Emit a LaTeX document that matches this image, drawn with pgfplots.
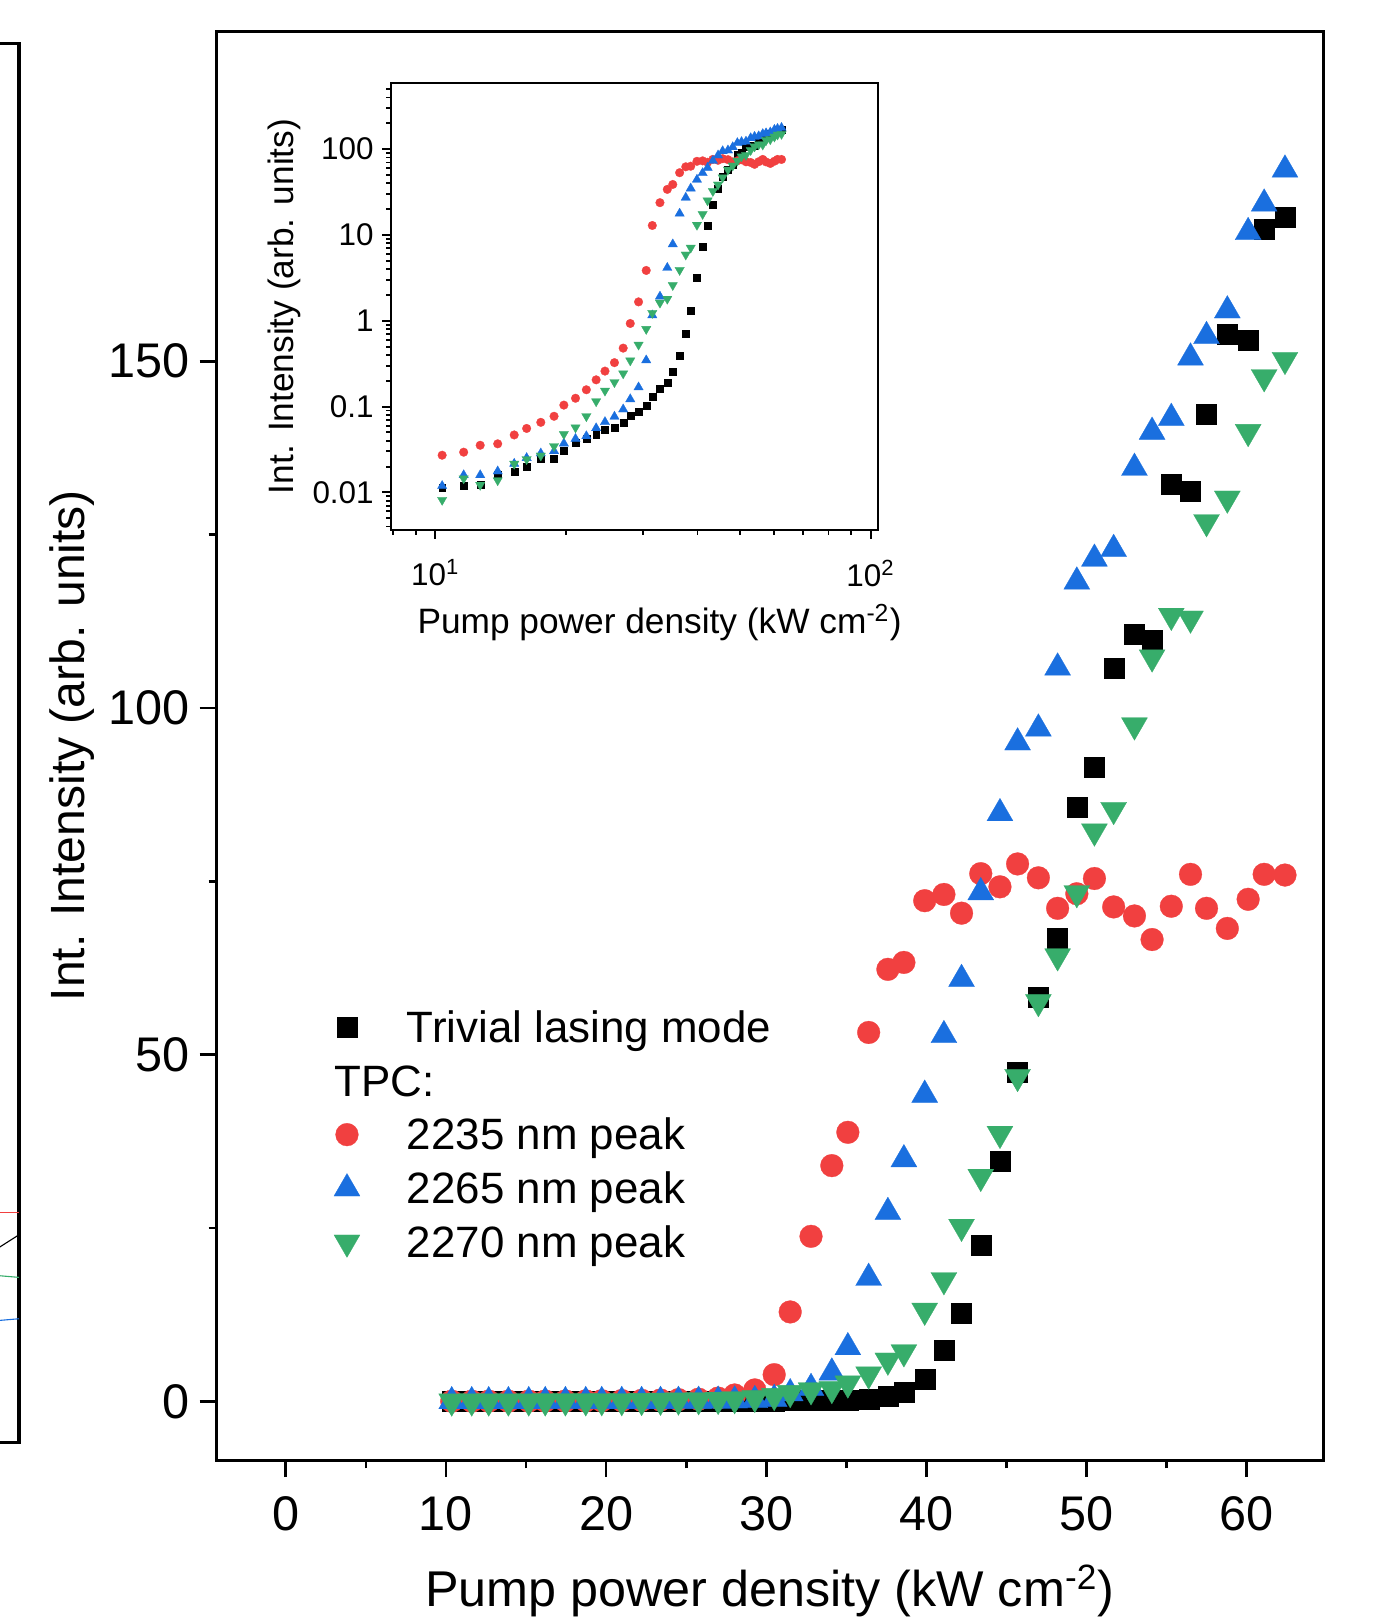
\documentclass[border=0pt]{standalone}
\usepackage{fontspec}
\setmainfont{Liberation Sans}
\usepackage{pgfplots}
\pgfplotsset{compat=1.18}
\usepackage{pgfplotstable}
\definecolor{cR}{HTML}{F14040}
\definecolor{cB}{HTML}{1A6FDF}
\definecolor{cG}{HTML}{37AD6B}

\pgfplotstableread{
x y
10.36 0.0113
11.61 0.0119
12.67 0.0123
13.90 0.0159
15.17 0.0176
16.20 0.0199
17.46 0.0247
18.73 0.0247
19.73 0.0303
20.98 0.0376
22.22 0.0421
23.40 0.0467
24.52 0.0533
25.78 0.0573
27.00 0.0648
28.03 0.078
29.29 0.088
30.50 0.103
31.50 0.130
32.80 0.160
34.10 0.192
35.10 0.254
36.40 0.391
37.60 0.70
38.60 1.3
39.90 3.2
41.10 7.4
42.20 12.8
43.40 22.6
44.60 34.7
45.70 47.5
47.00 58.3
48.20 66.8
49.40 85.7
50.50 91.4
51.70 105.8
53.00 110.7
54.10 109.8
55.30 132.3
56.50 131.3
57.50 142.3
58.80 153.9
60.10 153.1
61.10 169.1
62.40 170.7
}\tabK

\pgfplotstableread{
x y
10.36 0.0271
11.61 0.0294
12.67 0.0354
13.90 0.0368
15.17 0.0467
16.20 0.0556
17.46 0.0655
18.73 0.0771
19.73 0.104
20.98 0.125
22.22 0.157
23.40 0.205
24.52 0.259
25.78 0.325
27.00 0.48
28.03 0.93
29.29 1.66
30.50 3.86
31.50 12.9
32.80 23.8
34.10 34.0
35.10 38.8
36.40 53.2
37.60 62.3
38.60 63.3
39.90 72.2
41.10 73.1
42.20 70.4
43.40 76.1
44.60 74.2
45.70 77.5
47.00 75.5
48.20 71.1
49.40 73.2
50.50 75.4
51.70 71.3
53.00 70.0
54.10 66.6
55.30 71.4
56.50 76.0
57.50 71.1
58.80 68.2
60.10 72.4
61.10 76.0
62.40 75.9
}\tabR

\pgfplotstableread{
x y
10.36 0.0119
11.61 0.0159
12.67 0.0159
13.90 0.0176
15.17 0.0216
16.20 0.0252
17.46 0.0285
18.73 0.0303
19.73 0.0372
20.98 0.0421
22.22 0.0453
23.40 0.0561
24.52 0.0662
25.78 0.0764
27.00 0.0929
28.03 0.122
29.29 0.168
30.50 0.347
31.50 1.16
32.80 1.92
34.10 4.15
35.10 7.8
36.40 17.8
37.60 27.3
38.60 34.9
39.90 44.2
41.10 52.8
42.20 60.9
43.40 73.4
44.60 84.8
45.70 95.0
47.00 97.0
48.20 105.8
49.40 118.2
50.50 121.5
51.70 122.9
53.00 134.6
54.10 139.8
55.30 141.8
56.50 150.5
57.50 153.6
58.80 157.3
60.10 168.6
61.10 172.7
62.40 177.6
}\tabB

\pgfplotstableread{
x y
10.36 0.00815
11.61 0.0145
12.67 0.0122
13.90 0.0138
15.17 0.0215
16.20 0.0243
17.46 0.0268
18.73 0.0345
19.73 0.0477
20.98 0.057
22.22 0.077
23.40 0.115
24.52 0.153
25.78 0.192
27.00 0.243
28.03 0.344
29.29 0.525
30.50 0.80
31.50 1.23
32.80 1.62
34.10 1.8
35.10 2.6
36.40 3.9
37.60 5.9
38.60 7.1
39.90 13.1
41.10 17.5
42.20 25.2
43.40 32.4
44.60 38.6
45.70 46.8
47.00 57.6
48.20 64.2
49.40 73.3
50.50 82.2
51.70 85.3
53.00 97.5
54.10 107.3
55.30 113.3
56.50 112.9
57.50 126.8
58.80 130.2
60.10 139.8
61.10 147.7
62.40 150.2
}\tabG

\pgfplotsset{
  mk/.style={only marks,
    legend image code/.code={\path[draw=none,fill=none] (0pt,-7.5pt) rectangle (16pt,7.5pt);
      \draw[##1] plot coordinates {(8pt,1.5pt)};}},
}

\begin{document}
\begin{tikzpicture}
% partial neighbouring panel at the left edge
\begin{axis}[
  scale only axis, at={(-14.4pt,63.1pt)}, anchor=south west,
  width=21.24pt, height=503.8pt,
  xmin=0, xmax=1, ymin=0, ymax=1400,
  ticks=none, axis line style={line width=1.1pt},
]
\addplot[cR, line width=0.4pt] coordinates {(0.6,230.4) (1,230.4)};
\addplot[black, line width=0.4pt] coordinates {(0.6,193) (1,208)};
\addplot[cG, line width=0.4pt] coordinates {(0.6,167.4) (1,165.4)};
\addplot[cB, line width=0.4pt] coordinates {(0.6,122) (1,124)};
\end{axis}

% main axis
\begin{axis}[
  scale only axis, at={(78.0pt,56.8pt)}, anchor=south west,
  width=398.3pt, height=514.5pt,
  xmin=-4.32, xmax=64.78, ymin=-8.48, ymax=197.6,
  xtick={0,10,20,30,40,50,60}, ytick={0,50,100,150},
  minor x tick num=1, minor y tick num=1,
  tick align=outside, tick pos=left,
  major tick length=6.1pt, minor tick length=2.9pt,
  tick style={black, line width=1pt},
  axis line style={line width=1.1pt},
  /pgf/number format/assume math mode=true,
  tick label style={font=\fontsize{17.5}{21}\selectfont},
  xticklabel style={yshift=-3.4pt},
  xlabel={Pump power density (kW cm\textsuperscript{-2})},
  ylabel={Int. Intensity (arb. units)},
  xlabel style={font=\fontsize{18.1}{21}\selectfont, at={([yshift=-52.7pt]axis description cs:0.5,0)}, anchor=base},
  ylabel style={font=\fontsize{17.3}{21}\selectfont, at={([xshift=-47.4pt]axis description cs:0,0.5)}, anchor=base},
  legend cell align=left,
  legend style={at={(0.0977,0.3149)}, anchor=north west, draw=none, fill=none,
    inner sep=0pt, outer sep=0pt, row sep=4.4pt, column sep=13.6pt,
    font=\fontsize{15.8}{18}\selectfont,
    nodes={inner sep=0pt, text height=11.5pt, text depth=3.5pt, anchor=west}},
]
\addplot[mk, mark=square*, mark size=3.6pt, mark options={fill=black, draw=black, line width=0.1pt}] table[x=x,y=y] {\tabK};
\addlegendentry{Trivial lasing mode}
\addlegendimage{empty legend}
\addlegendentry{\hspace*{-26pt}TPC:}
\addplot[mk, mark=*, mark size=4.1pt, mark options={fill=cR, draw=cR, line width=0.1pt}] table[x=x,y=y] {\tabR};
\addlegendentry{2235 nm peak}
\addplot[mk, mark=triangle*, mark size=5.4pt, mark options={fill=cB, draw=cB, line width=0.1pt}] table[x=x,y=y] {\tabB};
\addlegendentry{2265 nm peak}
\addplot[mk, mark=triangle*, mark size=5.4pt, mark options={fill=cG, draw=cG, line width=0.1pt, rotate=180}] table[x=x,y=y] {\tabG};
\addlegendentry{2270 nm peak}
\end{axis}

% inset
\begin{axis}[
  scale only axis, at={(140.8pt,391.7pt)}, anchor=south west,
  width=175.3pt, height=160.9pt,
  xmode=log, ymode=log,
  xmin=7.91, xmax=104, ymin=0.00365, ymax=591,
  xtick={10,100}, xticklabels={10\textsuperscript{1},10\textsuperscript{2}},
  minor xtick={8,9,20,30,40,50,60,70,80,90},
  ytick={0.01,0.1,1,10,100}, yticklabels={0.01,0.1,1,10,100},
  minor ytick={0.004,0.005,0.006,0.007,0.008,0.009,0.02,0.03,0.04,0.05,0.06,0.07,0.08,0.09,0.2,0.3,0.4,0.5,0.6,0.7,0.8,0.9,2,3,4,5,6,7,8,9,20,30,40,50,60,70,80,90,200,300,400,500},
  tick align=outside, tick pos=left,
  major tick length=3.2pt, minor tick length=1.8pt,
  tick style={black, line width=0.7pt},
  axis line style={line width=0.75pt},
  axis background/.style={fill=white},
  tick label style={font=\fontsize{11.3}{14}\selectfont},
  xticklabel style={yshift=-4pt},
  yticklabel style={xshift=0.4pt},
  label style={font=\fontsize{12.7}{15}\selectfont},
  xlabel={Pump power density (kW cm\textsuperscript{-2})},
  ylabel={Int. Intensity (arb. units)},
  xlabel style={at={([xshift=9pt,yshift=-37.3pt]axis description cs:0.5,0)}, anchor=base},
  ylabel style={at={([xshift=-35.2pt]axis description cs:0,0.5)}, anchor=base},
]
\addplot[only marks, mark=square*, mark size=1.25pt, mark options={fill=black, draw=black, line width=0.1pt}] table[x=x,y=y] {\tabK};
\addplot[only marks, mark=*, mark size=1.56pt, mark options={fill=cR, draw=cR, line width=0.1pt}] table[x=x,y=y] {\tabR};
\addplot[only marks, mark=triangle*, mark size=1.95pt, mark options={fill=cB, draw=cB, line width=0.1pt}] table[x=x,y=y] {\tabB};
\addplot[only marks, mark=triangle*, mark size=1.95pt, mark options={fill=cG, draw=cG, line width=0.1pt, rotate=180}] table[x=x,y=y] {\tabG};
\end{axis}

\pgfresetboundingbox
\path[use as bounding box] (0pt,0pt) rectangle (499.68pt,582.48pt);
\end{tikzpicture}
\end{document}
